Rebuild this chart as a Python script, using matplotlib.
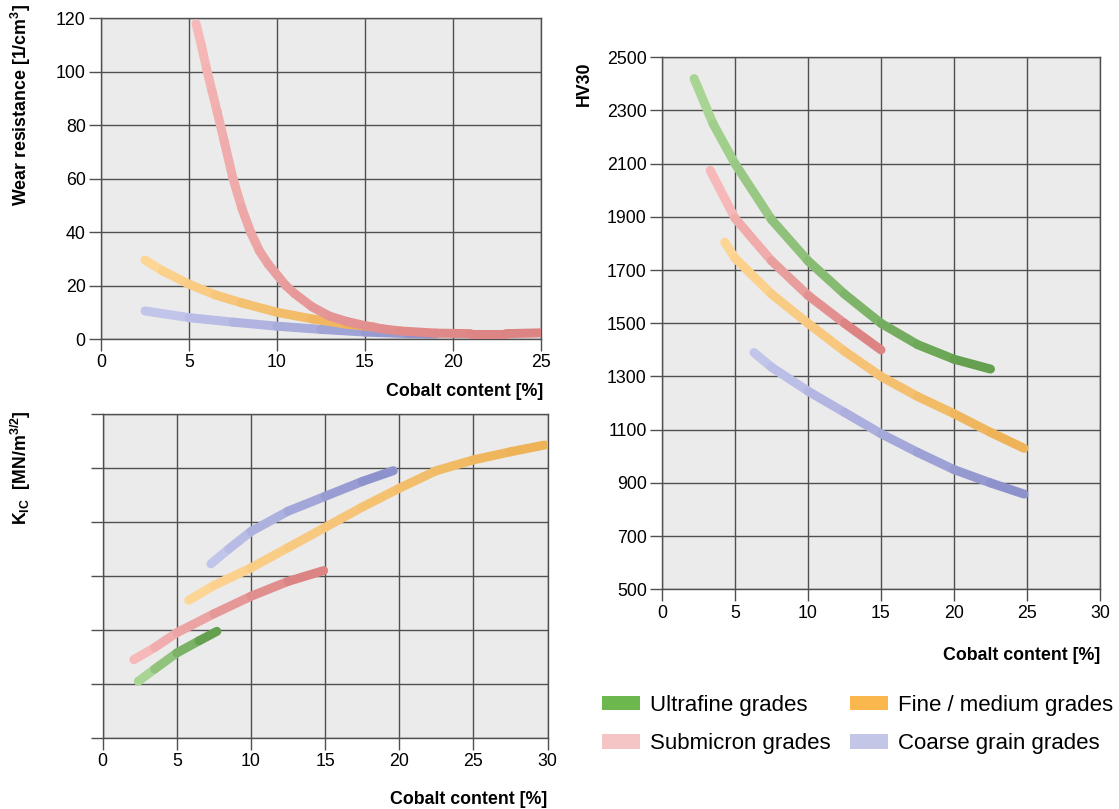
import numpy as np
import matplotlib
matplotlib.use("Agg")
import matplotlib.pyplot as plt
from matplotlib.collections import LineCollection
from matplotlib.colors import to_rgb
from matplotlib.patches import Patch

plt.rcParams['font.family'] = ['Liberation Sans', 'DejaVu Sans']
plt.rcParams['mathtext.fontset'] = 'custom'
plt.rcParams['mathtext.rm'] = 'Liberation Sans:bold'
plt.rcParams['mathtext.bf'] = 'Liberation Sans:bold'

# wear resistance vs cobalt content
wear_sub_x = [5.4, 5.7, 6.0, 6.3, 6.6, 7.0, 7.5, 8.0, 8.5, 9.0, 9.5, 10.0, 10.5, 11.0, 12.0, 13.0, 14.0, 15.0, 16.0, 17.0, 19.0, 21.0, 23.0, 25.0]
wear_sub_y = [118, 110, 101, 93, 85, 74, 60, 49, 40, 33, 28, 24, 20, 17, 12, 8.5, 6.5, 5, 3.8, 3, 2.2, 2, 2, 2.3]
wear_fine_x = [2.5, 3.5, 5.0, 6.5, 8.0, 10.0, 12.0, 14.0, 15.5]
wear_fine_y = [29.5, 25.5, 20.5, 16.5, 13.5, 10, 7.5, 5.5, 4.5]
wear_coarse_x = [2.5, 5.0, 7.5, 10.0, 12.5, 15.0, 17.5, 19.0]
wear_coarse_y = [10.5, 8, 6.3, 4.8, 3.6, 2.6, 2.0, 1.8]

# fracture toughness K_IC vs cobalt content
kic_ultra_x = [2.4, 3.5, 5.0, 6.5, 7.7]
kic_ultra_y = [6.1, 6.55, 7.15, 7.6, 7.95]
kic_sub_x = [2.1, 3.5, 5.0, 7.5, 10.0, 12.5, 14.9]
kic_sub_y = [6.9, 7.35, 7.9, 8.6, 9.25, 9.8, 10.2]
kic_fine_x = [5.8, 7.5, 10.0, 12.5, 15.0, 17.5, 20.0, 22.5, 25.0, 27.5, 29.8]
kic_fine_y = [9.1, 9.65, 10.3, 11.05, 11.8, 12.55, 13.25, 13.9, 14.3, 14.6, 14.85]
kic_coarse_x = [7.3, 8.5, 10.0, 12.5, 15.0, 17.5, 19.6]
kic_coarse_y = [10.45, 11.0, 11.65, 12.4, 12.95, 13.5, 13.9]

# hardness HV30 vs cobalt content
hv_ultra_x = [2.2, 3.5, 5.0, 7.5, 10.0, 12.5, 15.0, 17.5, 20.0, 22.5]
hv_ultra_y = [2420, 2250, 2100, 1890, 1735, 1610, 1500, 1420, 1365, 1328]
hv_sub_x = [3.3, 5.0, 7.5, 10.0, 12.5, 15.0]
hv_sub_y = [2075, 1895, 1735, 1605, 1500, 1400]
hv_fine_x = [4.3, 5.0, 7.5, 10.0, 12.5, 15.0, 17.5, 20.0, 22.5, 24.8]
hv_fine_y = [1805, 1745, 1610, 1500, 1395, 1300, 1225, 1160, 1090, 1030]
hv_coarse_x = [6.3, 7.5, 10.0, 12.5, 15.0, 17.5, 20.0, 22.5, 24.8]
hv_coarse_y = [1390, 1335, 1245, 1165, 1085, 1015, 950, 900, 858]

grades = ['Ultrafine grades', 'Submicron grades', 'Fine / medium grades', 'Coarse grain grades']
legend_colors = ['#6cb84c', '#f5c5c5', '#f9b74e', '#c3c6e6']
# light -> dark colour along each curve
tube = {
    'ultra': ('#a9d594', '#64a04f'),
    'sub': ('#f6b8b8', '#dc8383'),
    'fine': ('#fdd594', '#eeb257'),
    'coarse': ('#c2c5ea', '#8e92cc'),
}

grid_c = '#505050'
bg = '#ebebeb'


def draw_tube(ax, x, y, kind, lw=6.5):
    c0 = np.array(to_rgb(tube[kind][0]))
    c1 = np.array(to_rgb(tube[kind][1]))
    pts = np.column_stack([x, y])
    segs = np.stack([pts[:-1], pts[1:]], axis=1)
    t = np.linspace(0, 1, len(segs))
    cols = [c0 + (c1 - c0) * ti for ti in t]
    lc = LineCollection(segs, colors=cols, linewidths=lw, capstyle='round',
                        joinstyle='round', zorder=3)
    ax.add_collection(lc)


def style(ax):
    ax.set_facecolor(bg)
    ax.set_axisbelow(True)
    ax.grid(True, color=grid_c, lw=1.0)
    for s in ax.spines.values():
        s.set_color(grid_c)
        s.set_linewidth(1.0)
    ax.tick_params(length=8.5, width=1.0, color=grid_c, labelsize=12.8, pad=2.5)


W, H = 1119, 809
fig = plt.figure(figsize=(W / 100, H / 100), dpi=100)


def box(x0, y0, x1, y1):
    return [x0 / W, 1 - y1 / H, (x1 - x0) / W, (y1 - y0) / H]


# top left: wear resistance
ax1 = fig.add_axes(box(101, 18.3, 541, 339))
style(ax1)
draw_tube(ax1, wear_coarse_x, wear_coarse_y, 'coarse')
draw_tube(ax1, wear_fine_x, wear_fine_y, 'fine')
draw_tube(ax1, wear_sub_x, wear_sub_y, 'sub')
ax1.set_xlim(0, 25)
ax1.set_ylim(0, 120)
ax1.set_xticks(np.arange(0, 26, 5))
ax1.set_yticks(np.arange(0, 121, 20))

# bottom left: K_IC
ax2 = fig.add_axes(box(102.7, 414, 547.5, 738))
style(ax2)
draw_tube(ax2, kic_ultra_x, kic_ultra_y, 'ultra')
draw_tube(ax2, kic_sub_x, kic_sub_y, 'sub')
draw_tube(ax2, kic_fine_x, kic_fine_y, 'fine')
draw_tube(ax2, kic_coarse_x, kic_coarse_y, 'coarse')
ax2.set_xlim(0, 30)
ax2.set_ylim(4, 16)
ax2.set_xticks(np.arange(0, 31, 5))
ax2.set_yticks(np.arange(4, 17, 2))
ax2.set_yticklabels([])

# right: HV30
ax3 = fig.add_axes(box(662, 57.3, 1100, 589.3))
style(ax3)
draw_tube(ax3, hv_ultra_x, hv_ultra_y, 'ultra')
draw_tube(ax3, hv_sub_x, hv_sub_y, 'sub')
draw_tube(ax3, hv_fine_x, hv_fine_y, 'fine')
draw_tube(ax3, hv_coarse_x, hv_coarse_y, 'coarse')
ax3.set_xlim(0, 30)
ax3.set_ylim(500, 2500)
ax3.set_xticks(np.arange(0, 31, 5))
ax3.set_yticks(np.arange(500, 2501, 200))

# axis titles
bold = dict(fontsize=12.8, fontweight='bold')
fig.text(543 / W, 1 - 392 / H, 'Cobalt content [%]', ha='right', va='center', **bold)
fig.text(547 / W, 1 - 800 / H, 'Cobalt content [%]', ha='right', va='center', **bold)
fig.text(1100 / W, 1 - 655 / H, 'Cobalt content [%]', ha='right', va='center', **bold)
fig.text(21 / W, 1 - 4 / H, r'Wear resistance [1/cm$^{3}$]', rotation=90,
         ha='center', va='top', **bold)
fig.text(584 / W, 1 - 61 / H, 'HV30', rotation=90, ha='center', va='top', **bold)
fig.text(21 / W, 1 - 410 / H, r'K$_{\mathrm{IC}}$  [MN/m$^{3/2}$]', rotation=90,
         ha='center', va='top', **bold)

handles = [Patch(facecolor=c, edgecolor='none') for c in legend_colors]
fig.legend(handles, grades, ncol=2, frameon=False, fontsize=16,
           loc='upper left', bbox_to_anchor=(602 / W, 1 - 695 / H),
           borderaxespad=0, borderpad=0, handlelength=1.7, handleheight=0.6,
           handletextpad=0.45, columnspacing=0.9, labelspacing=0.78)

fig.savefig('out.png', dpi=100)
